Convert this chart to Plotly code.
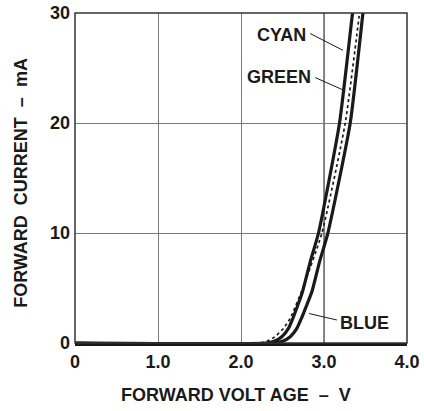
import plotly.graph_objects as go

# ---- data ----
cyan_v = [0, 2.30, 2.40, 2.492, 2.572, 2.625, 2.685, 2.741, 2.834, 2.934, 3.187, 3.344, 3.38]
cyan_i = [0, 0, 0.15, 0.57, 1.33, 2.24, 3.45, 4.66, 7.38, 10, 20, 30, 32]

green_v = [0, 2.22, 2.32, 2.41, 2.512, 2.593, 2.745, 2.975, 3.256, 3.428, 3.46]
green_i = [0, 0, 0.2, 0.57, 1.33, 2.24, 5.0, 10, 20, 30, 32]

blue_v = [0, 2.40, 2.50, 2.593, 2.673, 2.728, 2.792, 2.854, 2.946, 3.047, 3.316, 3.469, 3.50]
blue_i = [0, 0, 0.15, 0.57, 1.33, 2.24, 3.45, 4.66, 7.38, 10, 20, 30, 32]

x_ticks = [0, 1, 2, 3, 4]
x_tick_labels = ["0", "1.0", "2.0", "3.0", "4.0"]
y_ticks = [0, 10, 20, 30]
y_tick_labels = ["0", "10", "20", "30"]
dark_grid_x = [3]

FONT = "Liberation Sans, Arial, Helvetica, sans-serif"
INK = "#1a1a1a"

fig = go.Figure()

for v, i, dash, w in [(cyan_v, cyan_i, "solid", 3.2),
                      (blue_v, blue_i, "solid", 3.2),
                      (green_v, green_i, "3px,3px", 1.7)]:
    fig.add_trace(go.Scatter(x=v, y=i, mode="lines",
                             line=dict(color=INK, width=w, dash=dash,
                                       shape="spline", smoothing=0.5),
                             showlegend=False, hoverinfo="skip"))

axis_font = dict(family=FONT, size=18, color=INK, weight="bold")

fig.update_xaxes(range=[0, 4], tickvals=x_ticks, ticktext=x_tick_labels,
                 showgrid=True, gridcolor="#7a7a7a", gridwidth=1,
                 zeroline=False, showline=True, linecolor=INK, linewidth=3,
                 mirror=False, ticks="", tickfont=axis_font, ticklabelstandoff=0,
                 automargin=False)
fig.update_yaxes(range=[0, 30], tickvals=y_ticks, ticktext=y_tick_labels,
                 showgrid=True, gridcolor="#7a7a7a", gridwidth=1,
                 zeroline=False, showline=False, ticks="", tickfont=axis_font,
                 ticklabelstandoff=4, automargin=False)

shapes = [dict(type="rect", xref="paper", yref="paper", x0=0, x1=1, y0=0, y1=1,
               line=dict(color="#333333", width=1.5), layer="above")]
for gx in dark_grid_x:
    shapes.append(dict(type="line", xref="x", yref="paper", x0=gx, x1=gx, y0=0, y1=1,
                       line=dict(color=INK, width=1), layer="below"))

# leader lines for labels
leaders = [((2.834, 28.13), (3.228, 26.61)),
           ((2.894, 24.13), (3.256, 22.92)),
           ((3.156, 2.09), (2.82, 2.68))]
for (x0, y0), (x1, y1) in leaders:
    shapes.append(dict(type="line", xref="x", yref="y", x0=x0, y0=y0, x1=x1, y1=y1,
                       line=dict(color=INK, width=1)))

label_font = dict(family=FONT, size=18, color=INK, weight="bold")
annotations = [
    dict(x=2.484, y=27.97, xref="x", yref="y", text="CYAN", showarrow=False, font=label_font),
    dict(x=2.452, y=24.19, xref="x", yref="y", text="GREEN", showarrow=False, font=label_font),
    dict(x=3.485, y=1.86, xref="x", yref="y", text="BLUE", showarrow=False, font=label_font),
    dict(x=0.4839, y=-0.1565, xref="paper", yref="paper", text="FORWARD VOLT AGE  –  V",
         showarrow=False, font=label_font, xanchor="center", yanchor="middle"),
    dict(x=-0.1607, y=0.4844, xref="paper", yref="paper", text="FORWARD  CURRENT  –  mA",
         showarrow=False, font=label_font, textangle=-90, xanchor="center", yanchor="middle"),
]

fig.update_layout(width=424, height=411,
                  margin=dict(l=75, r=17, t=13, b=68, pad=0, autoexpand=False),
                  plot_bgcolor="white", paper_bgcolor="white",
                  shapes=shapes, annotations=annotations,
                  font=dict(family=FONT, color=INK))

fig.write_html("out.html", config={"displayModeBar": False, "staticPlot": True},
               post_script="document.body.style.margin='0';document.body.style.overflow='hidden';")
